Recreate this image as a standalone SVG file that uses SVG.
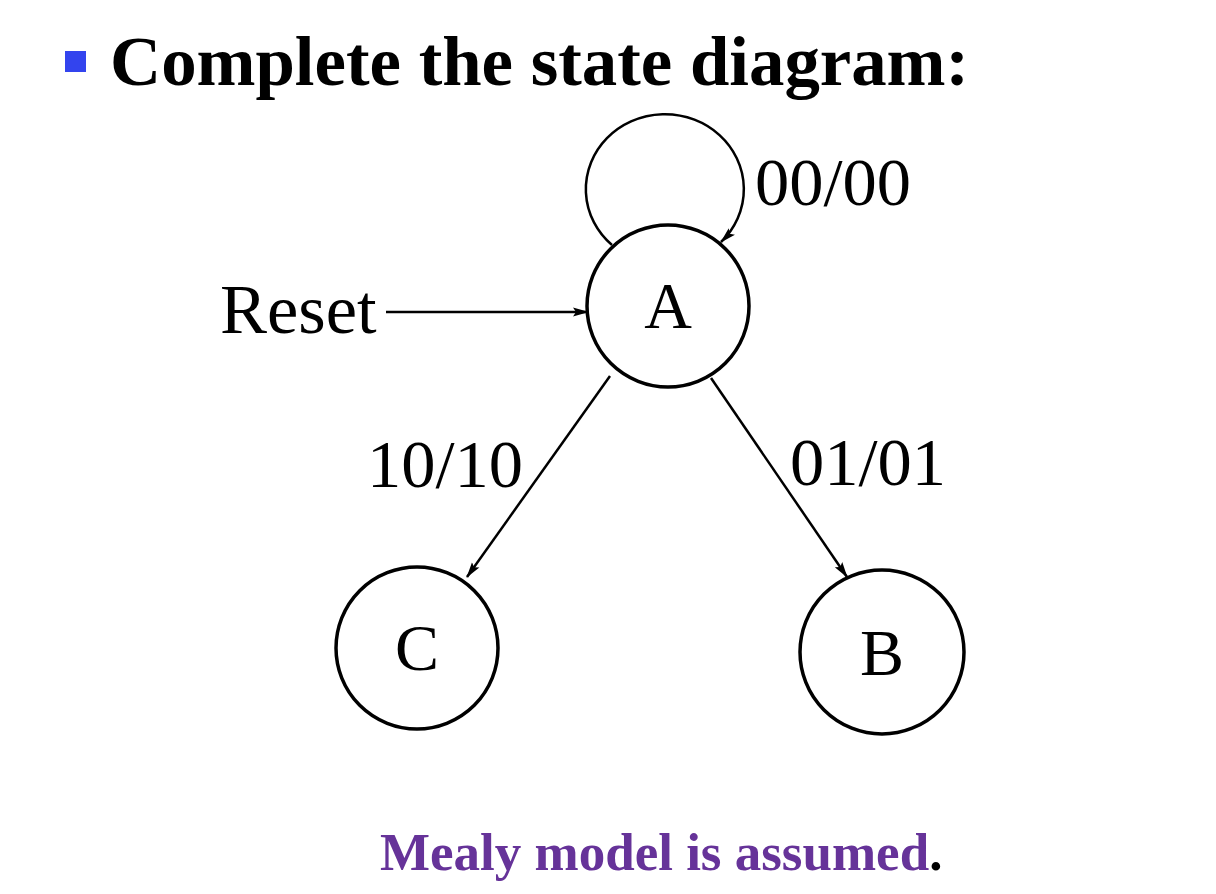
<svg xmlns="http://www.w3.org/2000/svg" width="1216" height="894" viewBox="0 0 1216 894">
<defs>
<style>
.node{fill:#fff;stroke:#000;stroke-width:3.5}
.edge{fill:none;stroke:#000;stroke-width:2.5}
.lbl{font-family:"Liberation Serif","Times New Roman",serif;font-size:68.5px;fill:#000}
.st{font-family:"Liberation Serif","Times New Roman",serif;font-size:66px;fill:#000;text-anchor:middle}
</style>
<marker id="arr" markerWidth="16" markerHeight="10" refX="15" refY="5" orient="auto" markerUnits="userSpaceOnUse">
<path d="M0,0.5 L16,5 L0,9.5 L3,5 Z" fill="#000"/>
</marker>
</defs>
<rect width="1216" height="894" fill="#fff"/>
<rect x="65" y="51" width="21" height="21" fill="#3344ee"/>
<text x="110" y="85" font-family="Liberation Serif,serif" font-weight="bold" font-size="70.8" fill="#000">Complete the state diagram:</text>
<g id="connectors">
<path class="edge" d="M612,245 A79,75 0 1 1 721,242" marker-end="url(#arr)"/>
<line class="edge" x1="386" y1="312" x2="588" y2="312" marker-end="url(#arr)"/>
<line class="edge" x1="610" y1="376" x2="467" y2="577" marker-end="url(#arr)"/>
<line class="edge" x1="711" y1="378" x2="847" y2="577" marker-end="url(#arr)"/>
<text class="lbl" x="755" y="205">00/00</text>
<text class="lbl" x="367" y="487">10/10</text>
<text class="lbl" x="790" y="485">01/01</text>
<text class="lbl" x="220" y="333" style="font-size:70.5px">Reset</text>
</g>
<g id="A"><circle class="node" cx="668" cy="306" r="81"/><text class="st" x="668" y="328">A</text></g>
<g id="C"><circle class="node" cx="417" cy="648" r="81"/><text class="st" x="417" y="670">C</text></g>
<g id="B"><circle class="node" cx="882" cy="652" r="82"/><text class="st" x="882" y="675">B</text></g>
<text x="380" y="870" font-family="Liberation Serif,serif" font-weight="bold" font-size="53" fill="#663399">Mealy model is assumed<tspan fill="#000">.</tspan></text>
</svg>
